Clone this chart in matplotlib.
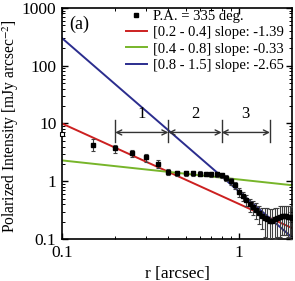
import numpy as np
import matplotlib
matplotlib.use("Agg")
import matplotlib.pyplot as plt

plt.rcParams["font.family"] = ["Liberation Serif", "DejaVu Serif"]
plt.rcParams["mathtext.fontset"] = "stix"

# radial profile, P.A. = 335 deg
r = [0.10, 0.15, 0.20, 0.25, 0.30, 0.35, 0.40, 0.45, 0.50, 0.55,
     0.60, 0.65, 0.70, 0.75, 0.80, 0.85, 0.90, 0.95, 1.00, 1.05,
     1.10, 1.15, 1.20, 1.25, 1.30, 1.35, 1.40, 1.45, 1.50, 1.55,
     1.60, 1.65, 1.70, 1.75, 1.80, 1.85, 1.90, 1.95, 2.00]
pi = [6.5, 4.3, 3.7, 3.1, 2.6, 2.0, 1.45, 1.38, 1.38, 1.38,
      1.36, 1.35, 1.33, 1.32, 1.28, 1.15, 1.00, 0.85, 0.65, 0.55,
      0.47, 0.40, 0.36, 0.32, 0.28, 0.25, 0.23, 0.22, 0.21, 0.21,
      0.22, 0.23, 0.24, 0.25, 0.25, 0.25, 0.24, 0.24, 0.23]
err = [0.0, 1.0, 0.6, 0.45, 0.4, 0.3, 0.18, 0.12, 0.12, 0.12,
       0.12, 0.12, 0.12, 0.12, 0.12, 0.12, 0.12, 0.12, 0.12, 0.1,
       0.1, 0.1, 0.1, 0.1, 0.1, 0.1, 0.12, 0.12, 0.12, 0.12,
       0.12, 0.12, 0.13, 0.13, 0.13, 0.13, 0.13, 0.13, 0.13]

# power-law fits: amplitude at r = 0.1, slope
fit_labels = ["[0.2 - 0.4] slope: -1.39", "[0.4 - 0.8] slope: -0.33", "[0.8 - 1.5] slope: -2.65"]
fit_amp = [10.0, 2.3, 300.0]
fit_slope = [-1.39, -0.33, -2.65]
fit_colors = ["#cc2020", "#77b52a", "#2b2d8e"]

# region boundaries
bounds = [0.2, 0.4, 0.8, 1.5]
region_names = ["1", "2", "3"]

fig = plt.figure(figsize=(2.95, 2.81), dpi=100)
ax = fig.add_axes([0.21, 0.149, 0.78, 0.823])

rr = np.logspace(-1, np.log10(2.0), 200)
for amp, s, c, lab in zip(fit_amp, fit_slope, fit_colors, fit_labels):
    ax.plot(rr, amp * (rr / 0.1) ** s, color=c, lw=1.4, label=lab, zorder=2)

ax.errorbar(r[1:], pi[1:], yerr=err[1:], fmt="s", color="black", ms=3.5,
            ecolor="0.25", elinewidth=0.8, capsize=1.5, capthick=0.8, zorder=3)
ax.plot(r[:1], pi[:1], "s", mfc="white", mec="black", ms=3.5, mew=0.8,
        clip_on=False, zorder=4)
# legend proxy
ax.plot([], [], "s", color="black", ms=3.5, label="P.A. = 335 deg.")

# region arrows
y_arr = 7.0
for i in range(3):
    ax.annotate("", xy=(bounds[i], y_arr), xytext=(bounds[i + 1], y_arr),
                arrowprops=dict(arrowstyle="<->", color="0.2", lw=1.0,
                                shrinkA=0, shrinkB=0, mutation_scale=9))
    xm = np.sqrt(bounds[i] * bounds[i + 1])
    ax.text(xm, 10.5, region_names[i], ha="center", va="bottom", fontsize=12)
for b in bounds:
    ax.plot([b, b], [4.8, 11.5], color="0.2", lw=1.0)

ax.set_xscale("log")
ax.set_yscale("log")
ax.set_xlim(0.1, 2.0)
ax.set_ylim(0.1, 1000)
ax.set_xticks([0.1, 1])
ax.set_xticklabels(["0.1", "1"])
ax.set_yticks([0.1, 1, 10, 100, 1000])
ax.set_yticklabels(["0.1", "1", "10", "100", "1000"])
ax.tick_params(which="both", direction="in", top=True, right=True, labelsize=12.5)
ax.tick_params(which="major", length=4, width=1, pad=4)
ax.tick_params(which="minor", length=2, width=0.7)
for sp in ax.spines.values():
    sp.set_linewidth(1.2)

ax.set_xlabel("r [arcsec]", fontsize=12.5, labelpad=4)
ax.set_ylabel("Polarized Intensity [mJy arcsec$^{-2}$]", fontsize=11.2)
ax.yaxis.set_label_coords(-0.18, 0.49)
ax.text(0.03, 0.965, "(a)", transform=ax.transAxes, ha="left", va="top", fontsize=13)

h, l = ax.get_legend_handles_labels()
order = [3, 0, 1, 2]
ax.legend([h[i] for i in order], [l[i] for i in order], loc="upper right",
          bbox_to_anchor=(0.975, 1.0),
          frameon=False, fontsize=10.5, handlelength=1.5, handletextpad=0.4,
          labelspacing=0.2, borderaxespad=0.05, borderpad=0.1)

fig.savefig("out.png", dpi=100)
